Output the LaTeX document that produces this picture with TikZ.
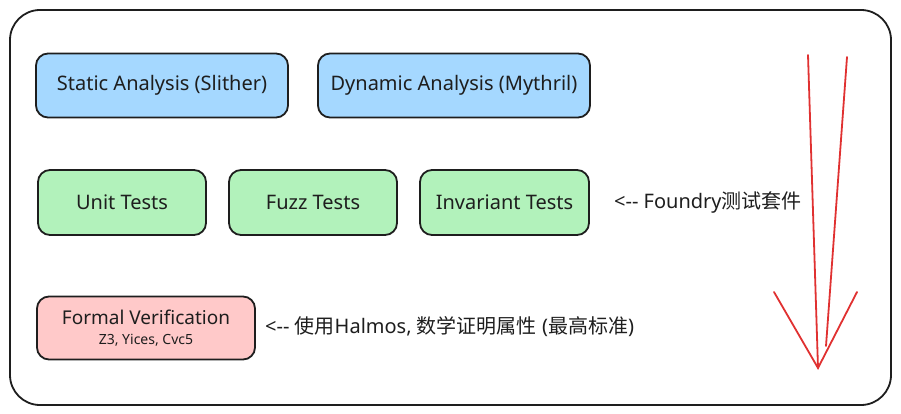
\documentclass[tikz,border=0pt]{standalone}
\usepackage{fontspec}
\setmainfont{Noto Sans}
\newfontfamily\cjk{Noto Sans CJK SC}
\definecolor{ink}{HTML}{1E1E1E}
\definecolor{bluef}{HTML}{A5D8FF}
\definecolor{greenf}{HTML}{B2F2BB}
\definecolor{redf}{HTML}{FFC9C9}
\definecolor{arrowred}{HTML}{E03131}
\newcommand{\dd}{-\kern0pt-}
\begin{document}
\begin{tikzpicture}[x=1pt,y=-1pt,
  card/.style={draw=ink, line width=1.8pt, rounded corners=12pt, inner sep=0pt, align=center, font=\fontsize{20}{24}\selectfont, text=ink},
  note/.style={anchor=west, inner sep=0pt, font=\fontsize{20}{24}\selectfont, text=ink},
  redline/.style={draw=arrowred, line width=1.8pt, line cap=round}]
\useasboundingbox (0,0) rectangle (901,414);
\draw[ink, line width=1.8pt, rounded corners=30pt] (10,10) rectangle (891,405);

\node[card, fill=bluef, minimum width=252pt, minimum height=64pt] (sa) at (162,85.5) {Static Analysis (Slither)};
\node[card, fill=bluef, minimum width=272pt, minimum height=64pt] (da) at (454,85.5) {Dynamic Analysis (Mythril)};

\node[card, fill=greenf, minimum width=168pt, minimum height=65pt] (ut) at (122,202.5) {Unit Tests};
\node[card, fill=greenf, minimum width=168pt, minimum height=65pt] (ft) at (313,202.5) {Fuzz Tests};
\node[card, fill=greenf, minimum width=169pt, minimum height=65pt] (it) at (504.5,202.5) {Invariant Tests};
\node[note] (fn) at (614,202) {<\dd\ Foundry{\cjk 测试套件}};

\node[card, fill=redf, minimum width=218pt, minimum height=63pt, font=\fontsize{19}{22}\selectfont] (fv) at (146,328) {Formal Verification\\[-2pt]{\fontsize{14}{17}\selectfont Z3, Yices, Cvc5}};
\node[note] (hn) at (265,327) {<\dd\ {\cjk 使用}Halmos, {\cjk 数学证明属性} ({\cjk 最高标准})};

\coordinate (a1s) at (808,55);
\coordinate (a1e) at (818,368);
\coordinate (a2s) at (847,57);
\coordinate (a2e) at (826,346);
\coordinate (hl) at (774,292);
\coordinate (hr) at (857,292);
\draw[redline] (a1s) -- (a1e);
\draw[redline] (a2s) -- (a2e);
\draw[redline] (hl) -- (a1e) -- (hr);
\end{tikzpicture}
\end{document}
